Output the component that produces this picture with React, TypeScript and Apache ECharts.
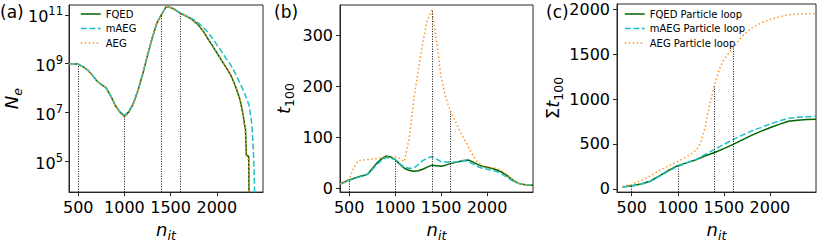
import React, { useEffect, useRef } from "react";
import * as echarts from "echarts";

const FONT = "DejaVu Sans";
const GREEN = "#006400";
const CYAN = "#1fc0c6";
const ORANGE = "#ff9422";
const FRAME = "#262626";

// ---------- panel (a): N_e vs n_it ----------
const nitA = [400, 450, 500, 550, 600, 650, 700, 750, 800, 850, 900, 950, 1000, 1050, 1100, 1150, 1200, 1250, 1300, 1350, 1400, 1450, 1500, 1550, 1600, 1650, 1700, 1750, 1800, 1850, 1900, 1950, 2000, 2050, 2100, 2150, 2200, 2250, 2275, 2290, 2300, 2310, 2320, 2345, 2350];
const neFQED = [1.0e9, 1.0e9, 9.5e8, 7.6e8, 5.6e8, 3.5e8, 2.0e8, 1.4e8, 1.05e8, 5.0e7, 2.0e7, 1.07e7, 7.2e6, 1.1e7, 2.5e7, 8.9e7, 4.0e8, 2.2e9, 1.1e10, 4.5e10, 1.0e11, 2.1e11, 2.0e11, 1.6e11, 1.2e11, 9.5e10, 7.6e10, 5.6e10, 3.8e10, 2.2e10, 1.1e10, 5.6e9, 2.8e9, 1.4e9, 7.1e8, 3.5e8, 1.26e8, 3.5e7, 1.26e7, 6.3e6, 3.2e6, 2.2e6, 1.8e5, 1.6e5, 1.0e3];
const neAEG = [1.0e9, 1.0e9, 9.4e8, 7.5e8, 5.5e8, 3.5e8, 2.0e8, 1.4e8, 1.0e8, 4.8e7, 1.9e7, 1.0e7, 6.3e6, 1.0e7, 2.4e7, 8.7e7, 4.0e8, 2.2e9, 1.1e10, 4.6e10, 1.0e11, 2.1e11, 2.0e11, 1.6e11, 1.2e11, 9.6e10, 7.8e10, 5.7e10, 3.9e10, 2.3e10, 1.15e10, 5.8e9, 2.9e9, 1.45e9, 7.3e8, 3.6e8, 1.3e8, 3.8e7, 1.3e7, 6.5e6, 3.0e6, 2.0e6, 1.5e5, 1.2e5, 1.0e3];
const nitAm = [400, 450, 500, 550, 600, 650, 700, 750, 800, 850, 900, 950, 1000, 1050, 1100, 1150, 1200, 1250, 1300, 1350, 1400, 1450, 1500, 1550, 1600, 1650, 1700, 1750, 1800, 1850, 1900, 1950, 2000, 2050, 2100, 2150, 2200, 2250, 2300, 2350, 2380, 2395, 2405, 2412];
const neMAEG = [1.0e9, 1.0e9, 9.5e8, 7.6e8, 5.6e8, 3.5e8, 2.0e8, 1.4e8, 1.05e8, 5.0e7, 2.0e7, 1.1e7, 7.6e6, 1.15e7, 2.6e7, 9.0e7, 4.0e8, 2.2e9, 1.1e10, 4.5e10, 1.0e11, 2.1e11, 2.0e11, 1.6e11, 1.25e11, 1.0e11, 8.0e10, 6.3e10, 4.7e10, 3.1e10, 2.0e10, 1.12e10, 6.0e9, 3.2e9, 1.66e9, 8.9e8, 4.0e8, 1.6e8, 6.3e7, 2.0e7, 3.2e6, 3.2e5, 3.2e4, 1.0e3];

// ---------- panel (b): t_100 vs n_it ----------
const nitB = [400, 450, 500, 550, 600, 650, 700, 750, 800, 850, 900, 950, 1000, 1050, 1100, 1150, 1200, 1250, 1300, 1350, 1400, 1450, 1500, 1550, 1600, 1650, 1700, 1750, 1800, 1850, 1900, 1950, 2000, 2050, 2100, 2150, 2200, 2250, 2300, 2350, 2400, 2450, 2500];
const tFQED = [8, 12, 16, 19, 22, 24, 27, 38, 49, 57, 63, 61, 56, 47, 39, 35, 33, 34, 37, 41, 45, 44, 43, 45, 48, 50, 52, 54, 55, 51, 46, 43, 41, 39, 36, 32, 27, 20, 13, 9, 7, 6, 5.5];
const tMAEG = [8, 11, 15, 18, 21, 24, 27, 36, 46, 54, 60, 59, 56, 48, 41, 39, 39, 46, 54, 59, 62, 57, 52, 51, 51, 51, 52, 54, 52, 47, 42, 39, 37, 35, 33, 29, 23, 17, 12, 9, 7, 6, 5.5];
const tAEG = [8, 12, 18, 40, 54, 55, 56, 57, 58, 60, 63, 62, 61, 58, 52, 95, 170, 230, 285, 330, 350, 290, 218, 178, 152, 133, 114, 97, 80, 63, 50, 44, 42, 40, 39, 35, 29, 21, 14, 9, 7, 6, 5.5];

// ---------- panel (c): cumulative t_100 vs n_it ----------
const nitC = [400, 500, 600, 700, 800, 900, 1000, 1100, 1200, 1300, 1400, 1500, 1600, 1700, 1800, 1900, 2000, 2100, 2200, 2300, 2400, 2500];
const sumFQED = [22, 35, 55, 85, 145, 205, 258, 292, 325, 368, 405, 448, 495, 545, 595, 640, 680, 718, 752, 765, 772, 775];
const sumMAEG = [22, 33, 52, 82, 140, 198, 250, 290, 328, 385, 440, 495, 548, 598, 645, 682, 722, 755, 785, 797, 804, 808];
const nitCa = [400, 500, 600, 700, 800, 900, 1000, 1100, 1200, 1250, 1300, 1350, 1400, 1450, 1500, 1600, 1700, 1800, 1900, 2000, 2100, 2200, 2300, 2400, 2500];
const sumAEG = [27, 50, 92, 142, 205, 258, 305, 360, 430, 520, 700, 960, 1160, 1330, 1440, 1570, 1700, 1790, 1845, 1885, 1915, 1938, 1946, 1950, 1952];

// ---------- dotted reference lines ----------
const refX = [500, 1000, 1400, 1600];
const refTopA = [9.0e8, 7.0e6, 9.0e10, 1.2e11];
const refTopB = [17, 56, 350, 150];
const refTopC = [30, 250, 1140, 1560];

// ---------- ticks ----------
const xTicks = [500, 1000, 1500, 2000];
const yTicksA = [1e5, 1e7, 1e9, 1e11];
const yTicksB = [0, 100, 200, 300];
const yTicksC = [0, 500, 1000, 1500, 2000];

const legendA = ["FQED", "mAEG", "AEG"];
const legendC = ["FQED Particle loop", "mAEG Particle loop", "AEG Particle loop"];

const zip = (xs: number[], ys: number[]) => xs.map((x, i) => [x, ys[i]]);
const plain = (v: number) => String(Math.round(v));

const TICK_FS = 16;
const NAME_FS = 18;

const nameRich = {
  i: { fontFamily: FONT, fontStyle: "italic", fontSize: NAME_FS, color: "#000", verticalAlign: "top", padding: [0, 0, 4, 0] },
  r: { fontFamily: FONT, fontSize: NAME_FS, color: "#000", verticalAlign: "top", padding: [0, 0, 4, 0] },
  si: { fontFamily: FONT, fontStyle: "italic", fontSize: 12.5, color: "#000", verticalAlign: "bottom" },
  s: { fontFamily: FONT, fontSize: 12.5, color: "#000", verticalAlign: "bottom" },
};

function xAxis(gridIndex: number, min: number) {
  return {
    gridIndex,
    type: "value",
    min,
    max: 2500,
    axisLine: { show: true, onZero: false, lineStyle: { color: FRAME, width: 1 } },
    axisTick: { show: true, length: 4, customValues: xTicks, lineStyle: { color: FRAME } },
    axisLabel: { customValues: xTicks, formatter: plain, fontSize: TICK_FS, fontFamily: FONT, color: "#000", margin: 7 },
    splitLine: { show: false },
    name: "{i|n}{si|it}",
    nameLocation: "middle",
    nameGap: 25,
    nameTextStyle: { rich: nameRich },
  };
}

function yAxisCommon(gridIndex: number, ticks: number[], name: string, nameGap: number) {
  return {
    gridIndex,
    axisLine: { show: true, onZero: false, lineStyle: { color: FRAME, width: 1 } },
    axisTick: { show: true, length: 4, customValues: ticks, lineStyle: { color: FRAME } },
    splitLine: { show: false },
    name,
    nameLocation: "middle",
    nameRotate: 90,
    nameGap,
    nameTextStyle: { rich: nameRich },
  };
}

function vlines(tops: number[], bottom: number) {
  return {
    silent: true,
    symbol: ["none", "none"],
    label: { show: false },
    lineStyle: { color: "#111", width: 1, type: [1, 1.5] },
    emphasis: { disabled: true },
    data: refX.map((x, i) => [{ coord: [x, bottom] }, { coord: [x, tops[i]] }]),
  };
}

function lineSeries(name: string, data: number[][], xi: number, color: string, dash: any, mark?: any) {
  const s: any = {
    name,
    type: "line",
    xAxisIndex: xi,
    yAxisIndex: xi,
    data,
    symbol: "none",
    showSymbol: false,
    smooth: false,
    clip: true,
    lineStyle: { color, width: 1.5, type: dash },
    itemStyle: { color },
    emphasis: { disabled: true },
  };
  if (mark) s.markLine = mark;
  return s;
}

const SOLID = "solid";
const DASHED = [6, 2.6];
const DOTTED = [1.5, 2.5];

const A_MIN = 5623;
const A_MAX = 2.51e11;
const B_MIN = -8;
const B_MAX = 360;
const C_MIN = -36;
const C_MAX = 2058;

export default function App() {
  const ref = useRef<HTMLDivElement>(null);
  useEffect(() => {
    document.body.style.margin = "0";
    const chart = echarts.init(ref.current!, null, { renderer: "svg" });
    const legendCommon = {
      orient: "vertical",
      top: 9,
      padding: 0,
      itemWidth: 20,
      itemHeight: 10,
      itemGap: 4.5,
      itemStyle: { color: "rgba(0,0,0,0)", borderColor: "rgba(0,0,0,0)", borderWidth: 0 },
      lineStyle: { width: 1.5 },
      textStyle: { fontFamily: FONT, fontSize: 10, color: "#000", lineHeight: 10 },
      selectedMode: false,
    };
    const option: any = {
      animation: false,
      backgroundColor: "#fff",
      textStyle: { fontFamily: FONT },
      grid: [
        { left: 69, top: 5, width: 194, height: 196, show: true, borderColor: FRAME, borderWidth: 1, backgroundColor: "transparent" },
        { left: 340, top: 5, width: 193, height: 196, show: true, borderColor: FRAME, borderWidth: 1, backgroundColor: "transparent" },
        { left: 617, top: 4, width: 199, height: 198, show: true, borderColor: FRAME, borderWidth: 1, backgroundColor: "transparent" },
      ],
      xAxis: [xAxis(0, 400), xAxis(1, 400), xAxis(2, 340)],
      yAxis: [
        {
          ...yAxisCommon(0, yTicksA, "{i|N}{si|e}", 42),
          type: "log",
          logBase: 10,
          min: A_MIN,
          max: A_MAX,
          axisLabel: {
            customValues: yTicksA,
            margin: 6,
            formatter: (v: number) => "{b|10}{p|" + Math.round(Math.log10(v)) + "}",
            rich: {
              b: { fontFamily: FONT, fontSize: TICK_FS, color: "#000", verticalAlign: "bottom", padding: [3, 0, 0, 0] },
              p: { fontFamily: FONT, fontSize: 11.5, color: "#000", verticalAlign: "top" },
            },
          },
        },
        {
          ...yAxisCommon(1, yTicksB, "{i|t}{s|100}", 44),
          type: "value",
          min: B_MIN,
          max: B_MAX,
          axisLabel: { customValues: yTicksB, formatter: plain, fontSize: TICK_FS, fontFamily: FONT, color: "#000", margin: 7 },
        },
        {
          ...yAxisCommon(2, yTicksC, "{r|Σ}{i|t}{s|100}", 50),
          type: "value",
          min: C_MIN,
          max: C_MAX,
          axisLabel: { customValues: yTicksC, formatter: plain, fontSize: TICK_FS, fontFamily: FONT, color: "#000", margin: 7 },
        },
      ],
      legend: [
        { ...legendCommon, left: 80, data: legendA },
        { ...legendCommon, left: 624, data: legendC },
      ],
      graphic: [
        { type: "text", x: 0, y: 3, style: { text: "(a)", font: "17px 'DejaVu Sans'", fill: "#000" } },
        { type: "text", x: 274, y: 3, style: { text: "(b)", font: "17px 'DejaVu Sans'", fill: "#000" } },
        { type: "text", x: 546, y: 3, style: { text: "(c)", font: "17px 'DejaVu Sans'", fill: "#000" } },
      ],
      series: [
        lineSeries("FQED", zip(nitA, neFQED), 0, GREEN, SOLID, vlines(refTopA, A_MIN)),
        lineSeries("mAEG", zip(nitAm, neMAEG), 0, CYAN, DASHED),
        lineSeries("AEG", zip(nitA, neAEG), 0, ORANGE, DOTTED),
        lineSeries("FQED", zip(nitB, tFQED), 1, GREEN, SOLID, vlines(refTopB, B_MIN)),
        lineSeries("mAEG", zip(nitB, tMAEG), 1, CYAN, DASHED),
        lineSeries("AEG", zip(nitB, tAEG), 1, ORANGE, DOTTED),
        lineSeries("FQED Particle loop", zip(nitC, sumFQED), 2, GREEN, SOLID, vlines(refTopC, C_MIN)),
        lineSeries("mAEG Particle loop", zip(nitC, sumMAEG), 2, CYAN, DASHED),
        lineSeries("AEG Particle loop", zip(nitCa, sumAEG), 2, ORANGE, DOTTED),
      ],
    };
    chart.setOption(option);
    return () => chart.dispose();
  }, []);
  return <div ref={ref} style={{ width: 822, height: 247 }} />;
}
